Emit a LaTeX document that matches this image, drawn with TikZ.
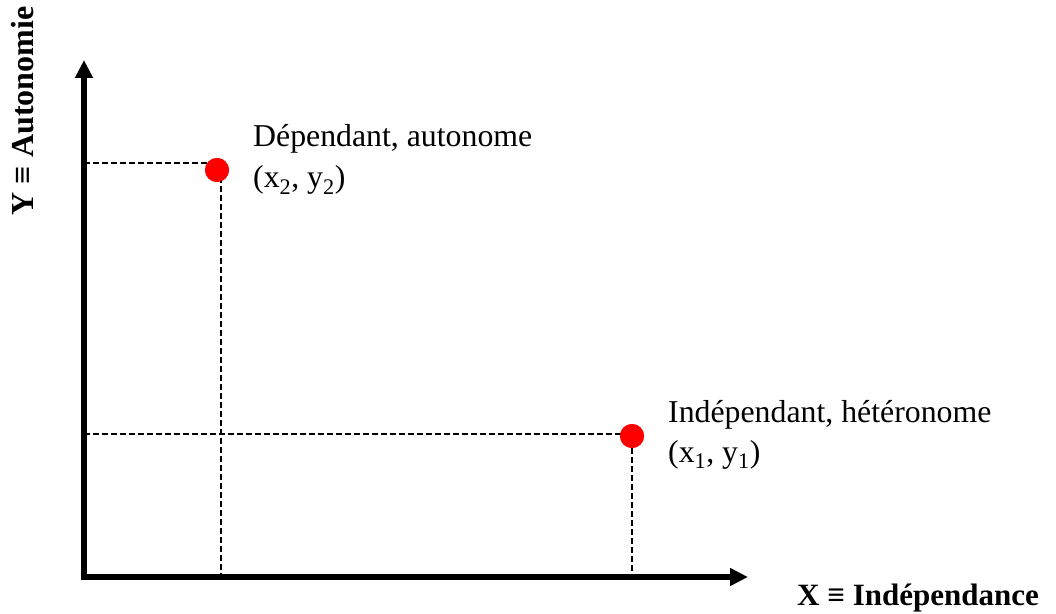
\documentclass[tikz,border=0pt]{standalone}
\usepackage{fontspec}
\setmainfont{Liberation Serif}
\usetikzlibrary{arrows.meta}
\definecolor{pointred}{HTML}{FF0000}

\begin{document}
\begin{tikzpicture}[x=1pt, y=1pt, >={Triangle[length=18pt, width=17pt]},
    axis/.style={line width=6pt},
    guide/.style={line width=1.8pt, dash pattern=on 6pt off 3pt},
    dot/.style={circle, fill=pointred, inner sep=0pt, minimum size=24pt},
    lbl/.style={anchor=base west, inner sep=0pt, font=\fontsize{31.8}{38}\selectfont}]
  \useasboundingbox (0,0) rectangle (1056,613);

  % axes
  \coordinate (O) at (84,39);
  \coordinate (corner) at (81,36);
  \coordinate (ytip) at (84,553);
  \coordinate (xtip) at (748,36);

  % points
  \node[dot] (p2) at (217,443) {};
  \node[dot] (p1) at (632,177) {};

  % guides to the axes
  \coordinate (h2) at (84,450);
  \coordinate (h2e) at (212,450);
  \coordinate (v2) at (221,436);
  \coordinate (v2e) at (221,36);
  \coordinate (h1) at (84,179);
  \coordinate (h1e) at (622,179);
  \coordinate (v1e) at (632,36);
  \draw[guide] (h2) -- (h2e);
  \draw[guide] (v2) -- (v2e);
  \draw[guide] (h1) -- (h1e);
  \draw[guide] (p1.south) -- (v1e);

  \draw[axis, ->] (O) -- (ytip);
  \draw[axis, ->] (corner) -- (xtip);

  \node[dot] at (p2) {};
  \node[dot] at (p1) {};

  % labels
  \node[lbl] (l2a) at (253,466) {Dépendant, autonome};
  \node[lbl] (l2b) at (253,425) {(x\textsubscript{2}, y\textsubscript{2})};
  \node[lbl] (l1a) at (668,190) {Indépendant, hétéronome};
  \node[lbl] (l1b) at (668,151) {(x\textsubscript{1}, y\textsubscript{1})};

  \node[lbl, font=\fontsize{31}{38}\selectfont\bfseries] (xlab) at (797,8) {X ≡ Indépendance};
  \node[lbl, anchor=base, rotate=90, font=\fontsize{32}{38}\selectfont\bfseries] (ylab) at (33,502) {Y ≡ Autonomie};
\end{tikzpicture}
\end{document}
